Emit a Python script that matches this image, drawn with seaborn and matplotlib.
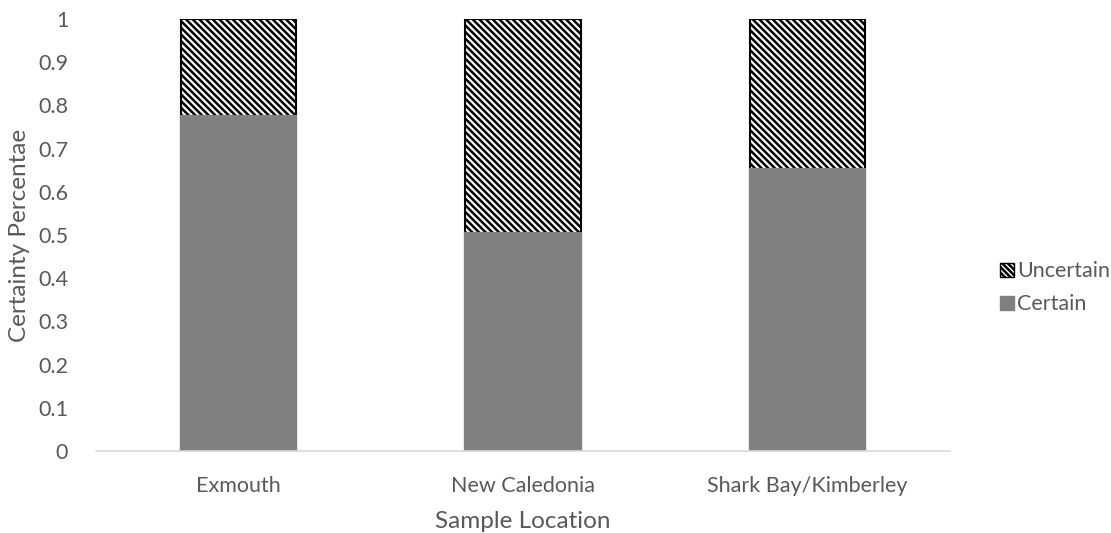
import matplotlib
matplotlib.use("Agg")
import matplotlib.pyplot as plt
import seaborn as sns
import pandas as pd
from matplotlib.patches import Patch

locations = ["Exmouth", "New Caledonia", "Shark Bay/Kimberley"]
certain = [0.776, 0.505, 0.653]
uncertain = [0.224, 0.495, 0.347]
yticks = [0, 0.1, 0.2, 0.3, 0.4, 0.5, 0.6, 0.7, 0.8, 0.9, 1]
ytick_labels = ["0", "0.1", "0.2", "0.3", "0.4", "0.5", "0.6", "0.7", "0.8", "0.9", "1"]

sns.set_theme(style="white")
plt.rcParams['font.family'] = ['Lato', 'DejaVu Sans']
plt.rcParams['hatch.linewidth'] = 1.8
txt = "#595959"

df = pd.DataFrame({"loc": locations, "certain": certain, "uncertain": uncertain})
df["total"] = df["certain"] + df["uncertain"]

fig = plt.figure(figsize=(11.11, 5.33), dpi=100)
ax = fig.add_axes([0.0864, 0.1538, 0.7686, 0.8106])

sns.barplot(data=df, x="loc", y="total", ax=ax, color="white", width=0.405,
            edgecolor="black", linewidth=1.5, hatch="\\" * 5, saturation=1)
sns.barplot(data=df, x="loc", y="certain", ax=ax, color="#808080", width=0.405,
            edgecolor="#808080", linewidth=1.6, saturation=1)

ax.set_ylim(0, 1)
ax.set_xlim(-0.5, 2.5)
ax.set_yticks(yticks)
ax.set_yticklabels(ytick_labels)
ax.tick_params(axis="both", length=0, labelsize=15.5, colors=txt)
ax.tick_params(axis="y", pad=20)
ax.tick_params(axis="x", pad=18)
for s in ["top", "right", "left"]:
    ax.spines[s].set_visible(False)
ax.spines["bottom"].set_color("#d9d9d9")
ax.spines["bottom"].set_linewidth(1.2)
ax.set_xlabel("Sample Location", fontsize=17.5, color=txt, labelpad=11)
ax.set_ylabel("Certainty Percentae", fontsize=17.5, color=txt, labelpad=6)

handles = [Patch(facecolor="white", edgecolor="black", hatch="\\" * 6, linewidth=1.0, label="Uncertain"),
           Patch(facecolor="#808080", edgecolor="#808080", label="Certain")]
leg = fig.legend(handles=handles, loc="center left", bbox_to_anchor=(0.9, 0.46),
                 frameon=False, fontsize=15.5, handlelength=0.65, handleheight=0.65,
                 handletextpad=0.15, labelspacing=0.6, borderpad=0, borderaxespad=0)
for t in leg.get_texts():
    t.set_color(txt)

fig.savefig("out.png", dpi=100)
